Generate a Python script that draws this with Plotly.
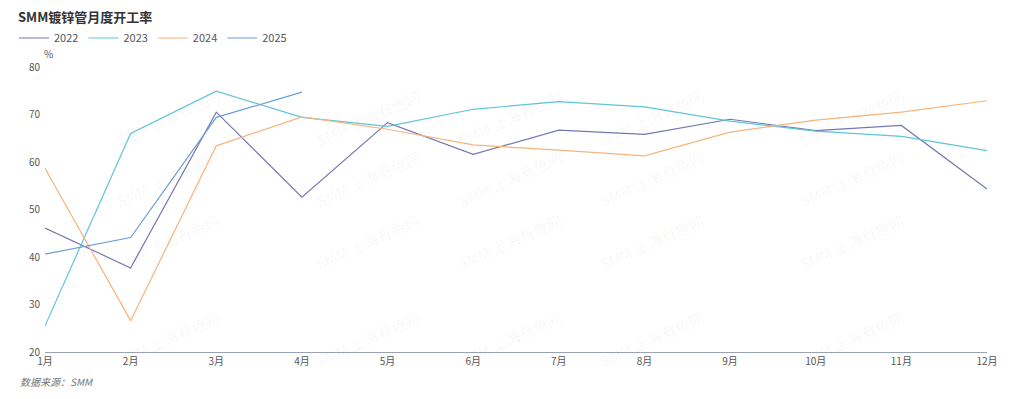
import plotly.graph_objects as go

months = ["1月", "2月", "3月", "4月", "5月", "6月", "7月", "8月", "9月", "10月", "11月", "12月"]
v2022 = [46.1, 37.7, 70.5, 52.6, 68.3, 61.6, 66.7, 65.8, 69.0, 66.6, 67.7, 54.3]
v2023 = [25.5, 66.0, 74.9, 69.4, 67.5, 71.1, 72.7, 71.6, 68.6, 66.5, 65.4, 62.4]
v2024 = [58.7, 26.6, 63.4, 69.5, 66.9, 63.6, 62.5, 61.3, 66.3, 68.8, 70.5, 72.9]
v2025 = [40.6, 44.1, 69.4, 74.7]

series = [
    ("2022", v2022, "#7278b2"),
    ("2023", v2023, "#5ec6d6"),
    ("2024", v2024, "#f6b47c"),
    ("2025", v2025, "#6a9fd8"),
]

W, H = 1024, 399
L, R, T, B = 45, 37, 67, 47
PW, PH = W - L - R, H - T - B


def px(x):
    return (x - L) / PW


def py(y):
    return (H - B - y) / PH


fig = go.Figure()
for name, vals, color in series:
    fig.add_trace(go.Scatter(
        x=months[:len(vals)], y=vals, name=name, mode="lines",
        line=dict(color=color, width=1.2),
    ))

annotations = []
# watermarks
for cx in [110, 310, 510, 710, 910]:
    for cy in [82, 178, 277, 374]:
        annotations.append(dict(
            x=px(cx), y=py(cy), xref="paper", yref="paper",
            text="SMM 上海有色网", showarrow=False, textangle=-24,
            font=dict(size=15, color="rgba(0,0,0,0.045)",
                      family="Noto Sans CJK SC"),
        ))
annotations.append(dict(
    x=px(48), y=py(53), xref="paper", yref="paper", text="%",
    showarrow=False, font=dict(size=10, color="#555"),
    xanchor="center", yanchor="middle",
))
annotations.append(dict(
    x=px(18), y=py(382), xref="paper", yref="paper",
    text="<i>数据来源：SMM</i>", showarrow=False,
    font=dict(size=10, color="#777"), xanchor="left", yanchor="middle",
))

fig.update_layout(
    width=W, height=H,
    margin=dict(l=L, r=R, t=T, b=B),
    paper_bgcolor="white", plot_bgcolor="white",
    font=dict(family="Noto Sans CJK SC", color="#555"),
    title=dict(text="<b>SMM镀锌管月度开工率</b>", x=18 / W, y=1 - 17 / H,
               xanchor="left", yanchor="middle",
               font=dict(size=13, color="#333")),
    legend=dict(orientation="h", x=px(14), y=py(38), xanchor="left",
                yanchor="middle", font=dict(size=11, color="#555"),
                bgcolor="rgba(0,0,0,0)", itemwidth=30),
    xaxis=dict(type="category", range=[0, 11], showgrid=False,
               showline=True, linecolor="#9aa3b5", linewidth=1,
               ticks="", tickfont=dict(size=10, color="#555"),
               zeroline=False),
    yaxis=dict(range=[20, 80], dtick=10, showgrid=False, zeroline=False,
               showline=False, ticks="", tickfont=dict(size=10, color="#555"),
               ticklabelstandoff=4),
    annotations=annotations,
    showlegend=True,
)

fig.write_html(
    "out.html",
    config={"displayModeBar": False},
    post_script="document.body.style.margin='0';document.body.style.overflow='hidden';",
)
